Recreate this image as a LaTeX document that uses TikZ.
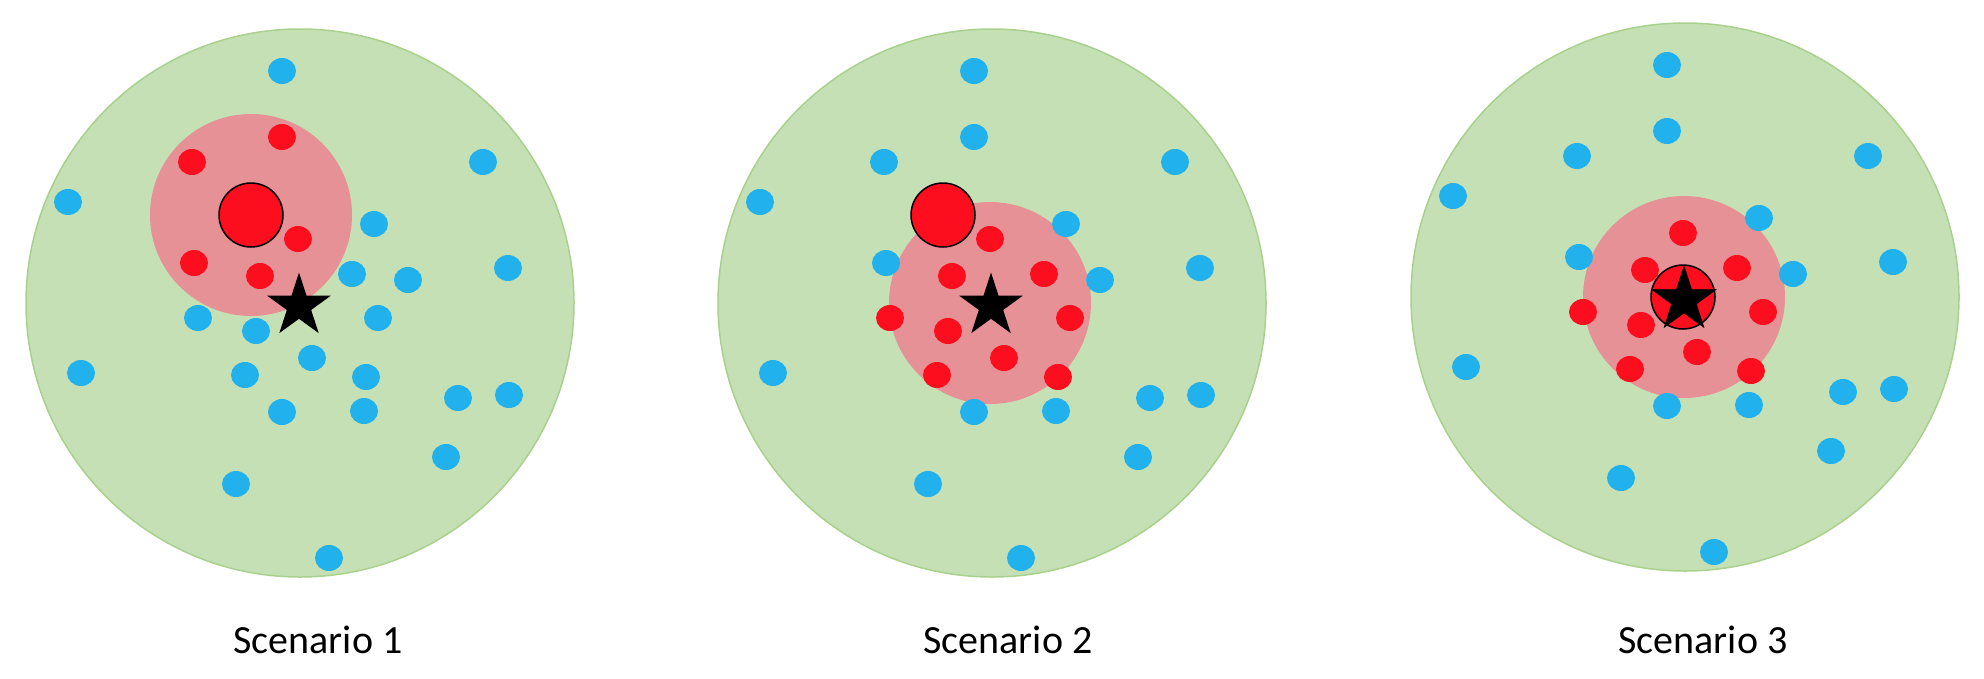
\documentclass[tikz,border=0pt]{standalone}
\usepackage{fontspec}
\setmainfont{Carlito}
\usetikzlibrary{shapes.geometric}

\definecolor{areagreen}{HTML}{C5E0B4}
\definecolor{areaedge}{HTML}{A9D18E}
\definecolor{nbhdpink}{HTML}{E59196}
\definecolor{ptred}{HTML}{FC0E1E}
\definecolor{ptblue}{HTML}{21B1EC}

% points shared by all three scenarios (local coordinates)
\newcommand{\outerpts}{282/71, 483/162, 68/202, 374/224, 508/268, 408/280, 81/373,
  458/398, 509/395, 282/412, 364/411, 446/457, 236/484, 329/558}
\newcommand{\nearqpts}{282/137, 192/162, 194/263}
\newcommand{\nearspts}{352/274, 198/318, 378/318, 256/331, 312/358, 245/375, 366/377}
\newcommand{\bothpts}{298/239, 260/276}

\begin{document}
\begin{tikzpicture}[x=1pt, y=-1pt,
    bluedot/.style={fill=ptblue},
    reddot/.style={fill=ptred},
    query/.style={circle, fill=ptred, draw=black, line width=1.5pt, minimum size=64pt, inner sep=0pt},
    target/.style={star, star points=5, star point ratio=2.618, fill=black, minimum size=67pt, inner sep=0pt},
    caption/.style={anchor=base, font=\fontsize{40}{48}\selectfont}]
    \useasboundingbox (0,0) rectangle (1984,678);

    % scenario 1
    \begin{scope}
        \draw[areaedge, fill=areagreen, line width=1.5pt] (300,303) circle (274);
        \fill[nbhdpink] (251,215) circle (101);
        \foreach \x/\y in \outerpts {\fill[bluedot] (\x,\y) ellipse (14 and 13);}
        \foreach \x/\y in \nearspts {\fill[bluedot] (\x,\y) ellipse (14 and 13);}
        \foreach \x/\y in \nearqpts {\fill[reddot] (\x,\y) ellipse (14 and 13);}
        \foreach \x/\y in \bothpts {\fill[reddot] (\x,\y) ellipse (14 and 13);}
        \node[query] (q1) at (251,215) {};
        \node[target] (s1) at (299,306) {};
    \end{scope}

    % scenario 2
    \begin{scope}[shift={(692,0)}]
        \draw[areaedge, fill=areagreen, line width=1.5pt] (300,303) circle (274);
        \fill[nbhdpink] (298,303) circle (101);
        \foreach \x/\y in \outerpts {\fill[bluedot] (\x,\y) ellipse (14 and 13);}
        \foreach \x/\y in \nearqpts {\fill[bluedot] (\x,\y) ellipse (14 and 13);}
        \foreach \x/\y in \nearspts {\fill[reddot] (\x,\y) ellipse (14 and 13);}
        \foreach \x/\y in \bothpts {\fill[reddot] (\x,\y) ellipse (14 and 13);}
        \node[query] (q2) at (251,215) {};
        \node[target] (s2) at (299,306) {};
    \end{scope}

    % scenario 3
    \begin{scope}[shift={(1385,-6)}]
        \draw[areaedge, fill=areagreen, line width=1.5pt] (300,303) circle (274);
        \fill[nbhdpink] (299,303) circle (101);
        \foreach \x/\y in \outerpts {\fill[bluedot] (\x,\y) ellipse (14 and 13);}
        \foreach \x/\y in \nearqpts {\fill[bluedot] (\x,\y) ellipse (14 and 13);}
        \foreach \x/\y in \nearspts {\fill[reddot] (\x,\y) ellipse (14 and 13);}
        \foreach \x/\y in \bothpts {\fill[reddot] (\x,\y) ellipse (14 and 13);}
        \node[query] (q3) at (298,303) {};
        \node[target, draw=black, line width=0.8pt] (s3) at (299,306) {};
    \end{scope}

    \node[caption] (lab1) at (318,653) {Scenario 1};
    \node[caption] (lab2) at (1008,653) {Scenario 2};
    \node[caption] (lab3) at (1703,653) {Scenario 3};
\end{tikzpicture}
\end{document}
